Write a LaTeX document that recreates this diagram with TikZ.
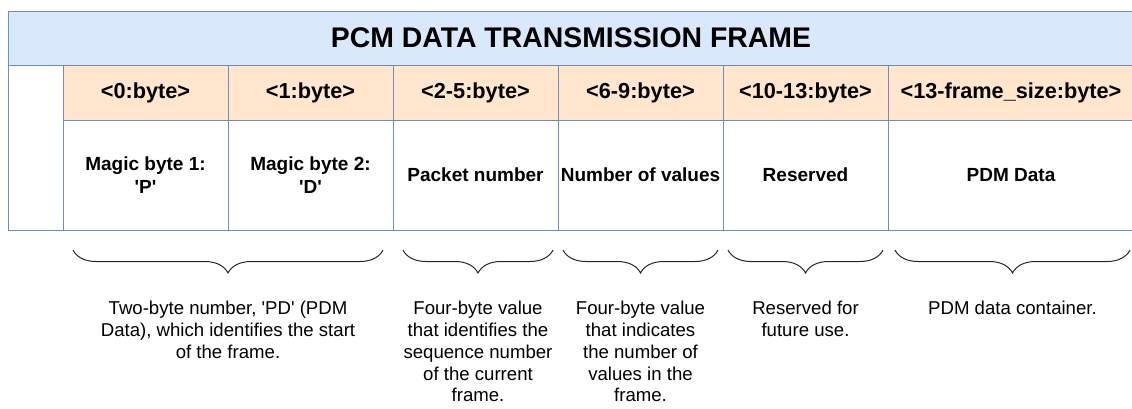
\documentclass[tikz,border=0pt]{standalone}
\usepackage{fontspec}
\setmainfont{Liberation Sans}[Ligatures=TeXOff]
\usetikzlibrary{positioning,decorations.pathreplacing}
\definecolor{titlefill}{HTML}{DAE8FC}
\definecolor{gridline}{HTML}{6C8EBF}
\definecolor{headfill}{HTML}{FFE6CC}

\begin{document}
\begin{tikzpicture}[x=1pt,y=-1pt]
    \tikzset{cell/.style={draw=gridline, line width=1pt, rectangle, align=center, inner sep=0pt, outer sep=0pt},
    head/.style={cell, fill=headfill, minimum width=165pt, minimum height=55pt, font=\fontsize{21.7}{26}\selectfont\bfseries},
    field/.style={cell, fill=white, minimum width=165pt, minimum height=110pt, font=\fontsize{19}{23}\selectfont\bfseries},
    brace/.style={draw=black!85, line width=1pt, decorate, decoration={brace, mirror, amplitude=23pt}},
    desc/.style={align=center, inner sep=0pt, font=\fontsize{18.6}{21.7}\selectfont},
    }
    \useasboundingbox (0,0) rectangle (1132,408);
    \node [cell, fill=titlefill, anchor=north west, minimum width=1126pt, minimum height=54pt, font=\fontsize{28.4}{34}\selectfont\bfseries] (title) at (8,11) {PCM DATA TRANSMISSION FRAME};
    \node [cell, anchor=north west, minimum width=55pt, minimum height=165pt] (spare) at (8,65) {};
    % byte ranges
    \node [head, anchor=north west] (h0) at (63,65) {<0:byte>};
    \node [head, right=0pt of h0] (h1) {<1:byte>};
    \node [head, right=0pt of h1] (h2) {<2-5:byte>};
    \node [head, right=0pt of h2] (h3) {<6-9:byte>};
    \node [head, right=0pt of h3] (h4) {<10-13:byte>};
    \node [head, right=0pt of h4, minimum width=246pt] (h5) {<13-frame\_size:byte>};
    % fields
    \node [field, below=0pt of h0] (f0) {Magic byte 1:\\'P'};
    \node [field, below=0pt of h1] (f1) {Magic byte 2:\\'D'};
    \node [field, below=0pt of h2] (f2) {Packet number};
    \node [field, below=0pt of h3] (f3) {Number of values};
    \node [field, below=0pt of h4] (f4) {Reserved};
    \node [field, below=0pt of h5, minimum width=246pt] (f5) {PDM Data};

% braces
    \draw [brace] ([shift={(10pt,-20pt)}]f0.south west) -- ([shift={(-10pt,-20pt)}]f1.south east)
        node [desc, midway, below=51pt] (d0) {Two-byte number, 'PD' (PDM\\Data), which identifies the start\\of the frame.};
    \draw [brace] ([shift={(10pt,-20pt)}]f2.south west) -- ([shift={(-5pt,-20pt)}]f2.south east)
        node [desc, midway, below=51pt] (d1) {Four-byte value\\that identifies the\\sequence number\\of the current\\frame.};
    \draw [brace] ([shift={(5pt,-20pt)}]f3.south west) -- ([shift={(-5pt,-20pt)}]f3.south east)
        node [desc, midway, below=51pt] (d2) {Four-byte value\\that indicates\\the number of\\values in the\\frame.};
    \draw [brace] ([shift={(5pt,-20pt)}]f4.south west) -- ([shift={(-5pt,-20pt)}]f4.south east)
        node [desc, midway, below=51pt] (d3) {Reserved for\\future use.};
    \draw [brace] ([shift={(7pt,-20pt)}]f5.south west) -- ([shift={(-4pt,-20pt)}]f5.south east)
        node [desc, midway, below=51pt] (d4) {PDM data container.};
\end{tikzpicture}
\end{document}
